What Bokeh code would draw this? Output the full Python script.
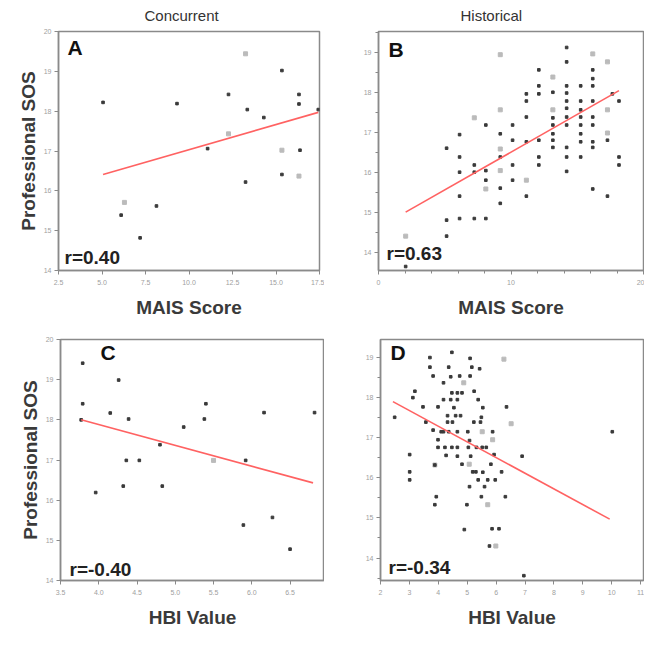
from bokeh.plotting import figure
from bokeh.models import Range1d, FixedTicker, Label, NumeralTickFormatter
from bokeh.layouts import column, row
from bokeh.embed import file_html
from bokeh.resources import INLINE

# ---------------- data ----------------
# Panel A: Concurrent, MAIS Score vs Professional SOS
a_dark_x = [5.06, 6.10, 7.19, 8.13, 9.31, 11.07, 12.27, 13.35, 13.25, 14.30, 15.34, 15.34, 16.32, 16.32, 16.38, 17.43]
a_dark_y = [18.22, 15.39, 14.82, 15.62, 18.19, 17.06, 18.42, 18.04, 16.22, 17.84, 19.02, 16.41, 18.42, 18.18, 17.02, 18.04]
a_grey_x = [6.29, 12.27, 13.25, 15.34, 16.32]
a_grey_y = [15.71, 17.43, 19.44, 17.02, 16.37]
a_fit_x = [5.06, 17.43]
a_fit_y = [16.41, 17.97]

# Panel B: Historical, MAIS Score vs Professional SOS
b_dark_x = [2.05, 5.14, 5.14, 5.14, 6.12, 6.12, 6.12, 6.12, 6.12, 7.23, 7.23, 7.23,
            8.10, 8.10, 8.10, 8.10, 9.19, 9.19, 9.19, 9.19, 10.12, 10.12, 10.12, 10.12,
            11.16, 11.16, 11.16, 11.16, 11.16, 12.10, 12.10, 12.10, 12.10, 12.10, 12.10,
            13.16, 13.16, 13.16, 13.16, 13.16, 13.16, 14.20, 14.20, 14.20, 14.20, 14.20,
            14.20, 14.20, 14.20, 14.20, 14.20, 14.20, 15.26, 15.26, 15.26, 15.26, 15.26,
            15.26, 15.26, 15.26, 16.17, 16.17, 16.17, 16.17, 16.17, 16.17, 16.17, 16.17,
            16.17, 17.28, 17.28, 17.65, 18.15, 18.15, 18.15]
b_dark_y = [13.64, 16.60, 14.80, 14.40, 16.94, 16.38, 16.00, 15.40, 14.84, 16.18, 16.00, 14.84,
            17.18, 16.04, 15.80, 14.84, 16.96, 16.38, 15.60, 15.22, 17.18, 16.80, 16.18, 15.80,
            17.96, 17.78, 17.38, 16.76, 15.40, 18.56, 18.16, 17.96, 16.80, 16.38, 16.18,
            18.00, 17.36, 17.18, 16.96, 16.80, 16.62, 19.12, 18.76, 18.16, 17.98, 17.78,
            17.60, 17.38, 17.18, 16.62, 16.38, 16.02, 18.16, 17.78, 17.56, 17.38, 17.18,
            16.96, 16.76, 16.38, 18.56, 18.34, 18.16, 17.78, 17.38, 17.18, 16.76, 16.62,
            15.58, 16.80, 15.40, 17.96, 17.78, 16.38, 16.18]
b_grey_x = [2.05, 7.23, 8.10, 9.19, 9.19, 9.19, 9.19, 11.16, 13.16, 13.16, 16.17, 17.28, 17.28, 17.28]
b_grey_y = [14.40, 17.36, 15.58, 18.94, 17.56, 16.58, 16.04, 15.80, 18.38, 17.56, 18.96, 18.76, 17.56, 16.98]
b_fit_x = [2.05, 18.15]
b_fit_y = [15.00, 18.04]

# Panel C: Concurrent, HBI Value vs Professional SOS
c_dark_x = [3.79, 3.79, 3.77, 3.96, 4.15, 4.26, 4.32, 4.36, 4.39, 4.53, 4.80, 4.83,
            5.11, 5.38, 5.40, 5.89, 5.92, 6.16, 6.27, 6.50, 6.82]
c_dark_y = [19.41, 18.40, 18.00, 16.19, 18.17, 18.99, 16.35, 16.99, 18.02, 16.99, 17.38, 16.35,
            17.82, 18.02, 18.40, 15.38, 16.99, 18.18, 15.57, 14.78, 18.18]
c_grey_x = [5.50]
c_grey_y = [16.99]
c_fit_x = [3.77, 6.80]
c_fit_y = [18.00, 16.43]

# Panel D: Historical, HBI Value vs Professional SOS
d_dark_x = [2.49, 3.01, 3.01, 3.01, 3.19, 3.12, 3.47, 3.57, 3.71, 3.71, 3.82, 3.82,
            3.88, 3.93, 3.88, 3.99, 3.99, 3.99, 4.10, 4.18, 4.18, 4.18, 4.23, 4.27,
            4.32, 4.32, 4.36, 4.36, 4.43, 4.43, 4.47, 4.47, 4.47, 4.49, 4.54, 4.60,
            4.66, 4.66, 4.66, 4.66, 4.66, 4.74, 4.77, 4.82, 4.82, 4.90, 4.99, 5.02,
            5.04, 5.08, 5.10, 5.10, 5.08, 5.12, 5.16, 5.19, 5.23, 5.24, 5.30, 5.32,
            5.38, 5.38, 5.43, 5.46, 5.49, 5.49, 5.52, 5.54, 5.54, 5.60, 5.66, 5.71,
            5.77, 5.82, 5.86, 5.88, 5.93, 5.97, 6.10, 6.19, 6.32, 6.36, 6.90, 6.96, 10.02]
d_dark_y = [17.51, 16.58, 16.15, 15.95, 18.16, 18.00, 17.77, 17.39, 19.00, 18.76, 18.54, 17.19,
            16.32, 15.53, 15.33, 17.77, 16.95, 16.76, 17.15, 18.37, 17.95, 17.15, 16.76, 16.56,
            17.55, 17.39, 18.76, 17.15, 17.95, 18.52, 19.13, 18.12, 16.76, 17.39, 17.75, 17.55,
            18.12, 17.95, 17.15, 16.76, 16.54, 18.54, 17.55, 18.12, 16.34, 14.71, 15.33, 17.15,
            16.76, 15.78, 18.98, 18.54, 16.93, 16.54, 18.76, 16.15, 17.39, 18.16, 16.15, 16.76,
            17.95, 15.95, 18.72, 17.39, 17.51, 15.53, 16.76, 17.75, 16.14, 15.78, 16.76, 15.95,
            14.30, 16.34, 14.73, 17.15, 16.58, 15.95, 14.73, 16.15, 15.53, 17.77, 16.54, 13.56, 17.15]
d_grey_x = [4.88, 5.07, 5.52, 5.71, 5.88, 5.99, 6.27, 6.52, 3.88]
d_grey_y = [18.37, 16.34, 17.15, 15.33, 16.95, 14.30, 18.96, 17.35, 16.32]
d_fit_x = [2.43, 9.93]
d_fit_y = [17.90, 14.97]

# axes
a_xticks = [2.5, 5.0, 7.5, 10.0, 12.5, 15.0, 17.5]
a_yticks = [14, 15, 16, 17, 18, 19, 20]
b_xticks = [0, 10, 20]
b_xminor = [2, 4, 6, 8, 12, 14, 16, 18]
b_yticks = [14, 15, 16, 17, 18, 19]
b_yminor = [13.5, 14.5, 15.5, 16.5, 17.5, 18.5, 19.5]
c_xticks = [3.5, 4.0, 4.5, 5.0, 5.5, 6.0, 6.5, 7.0]
c_yticks = [14, 15, 16, 17, 18, 19, 20]
d_xticks = [2, 3, 4, 5, 6, 7, 8, 9, 10, 11]
d_yticks = [14, 15, 16, 17, 18, 19]
d_yminor = [13.5, 14.5, 15.5, 16.5, 17.5, 18.5, 19.5]

FONT = "Liberation Sans"
GREY = "#8a8a8a"
TXT_SHIFT = 8  # px correction for text baseline placement


def panel(w, h, bl, br, bt, bb, xr, yr, xt, xm, yt, ym, xfmt, dark, grey, fit,
          letter, letter_off, rtext, r_off, title=None, title_off=0, xlabel="", ylabel=None):
    p = figure(width=w, height=h, output_backend="svg", toolbar_location=None,
               x_range=Range1d(*xr), y_range=Range1d(*yr),
               min_border_left=bl, min_border_right=br, min_border_top=bt, min_border_bottom=bb)
    p.background_fill_color = "white"
    p.border_fill_color = "white"
    p.grid.visible = False
    p.outline_line_color = GREY
    p.outline_line_width = 1.5
    for ax in (p.xaxis[0], p.yaxis[0]):
        ax.axis_line_color = GREY
        ax.axis_line_width = 1.5
        ax.major_tick_line_color = GREY
        ax.minor_tick_line_color = GREY
        ax.major_tick_out = 4
        ax.major_tick_in = 0
        ax.minor_tick_out = 3
        ax.minor_tick_in = 0
        ax.major_label_text_font = FONT
        ax.major_label_text_font_size = "7px"
        ax.major_label_text_color = "#a0a0a0"
        ax.axis_label_text_font = FONT
        ax.axis_label_text_font_size = "19px"
        ax.axis_label_text_font_style = "bold"
        ax.axis_label_text_color = "#3a3a3a"
    p.xaxis[0].ticker = FixedTicker(ticks=xt, minor_ticks=xm)
    p.yaxis[0].ticker = FixedTicker(ticks=yt, minor_ticks=ym)
    p.xaxis[0].formatter = NumeralTickFormatter(format=xfmt)
    p.xaxis[0].major_label_standoff = 5
    p.yaxis[0].major_label_standoff = 3
    p.xaxis[0].axis_label = xlabel
    p.xaxis[0].axis_label_standoff = 9
    if ylabel:
        p.yaxis[0].axis_label = ylabel
        p.yaxis[0].axis_label_standoff = 2
    if title:
        p.title.text = title
        p.title.align = "left"
        p.title.offset = title_off
        p.title.vertical_align = "top"
        p.title.text_font = FONT
        p.title.text_font_size = "15px"
        p.title.text_font_style = "normal"
        p.title.text_color = "#333333"
        p.title.standoff = 12

    p.scatter(grey[0], grey[1], marker="square", size=4, color="#bbbbbb")
    p.scatter(dark[0], dark[1], marker="square", size=2.6, color="#3a3a3a")
    p.line(fit[0], fit[1], line_color="#ff6262", line_width=1.6)

    fw = w - bl - br
    fh = h - bt - bb
    dx = (xr[1] - xr[0]) / fw
    dy = (yr[1] - yr[0]) / fh
    p.add_layout(Label(x=xr[0] + letter_off[0] * dx, y=yr[1] - (letter_off[1] - TXT_SHIFT) * dy,
                       text=letter, text_font=FONT, text_font_size="21px", text_font_style="bold",
                       text_color="#111111", text_baseline="alphabetic"))
    p.add_layout(Label(x=xr[0] + r_off[0] * dx, y=yr[0] + (r_off[1] + TXT_SHIFT) * dy,
                       text=rtext, text_font=FONT, text_font_size="19px", text_font_style="bold",
                       text_color="#222222", text_baseline="alphabetic"))
    return p


pa = panel(324, 320, 58, 5, 31, 47, (2.5, 17.5), (14, 20), a_xticks, [], a_yticks, [], "0.0",
           (a_dark_x, a_dark_y), (a_grey_x, a_grey_y), (a_fit_x, a_fit_y),
           "A", (9, 24), "r=0.40", (6, 5), title="Concurrent", title_off=86,
           xlabel="MAIS Score", ylabel="Professional SOS")
pb = panel(320, 320, 54, 1, 31, 47, (0, 20), (13.54, 19.52), b_xticks, b_xminor, b_yticks, b_yminor, "0",
           (b_dark_x, b_dark_y), (b_grey_x, b_grey_y), (b_fit_x, b_fit_y),
           "B", (10, 26), "r=0.63", (8, 9), title="Historical", title_off=82,
           xlabel="MAIS Score")
pc = panel(324, 310, 60, 0, 19, 47, (3.5, 6.95), (14, 20), c_xticks, [], c_yticks, [], "0.0",
           (c_dark_x, c_dark_y), (c_grey_x, c_grey_y), (c_fit_x, c_fit_y),
           "C", (40, 21), "r=-0.40", (9, 3),
           xlabel="HBI Value", ylabel="Professional SOS")
pd_ = panel(320, 310, 56, 1, 19, 47, (2, 11.1), (13.44, 19.45), d_xticks, [], d_yticks, d_yminor, "0",
            (d_dark_x, d_dark_y), (d_grey_x, d_grey_y), (d_fit_x, d_fit_y),
            "D", (10, 21), "r=-0.34", (8, 5),
            xlabel="HBI Value")

layout = column(row(pa, pb, spacing=0), row(pc, pd_, spacing=0), spacing=0)
open("out.html", "w").write(file_html(layout, INLINE))
